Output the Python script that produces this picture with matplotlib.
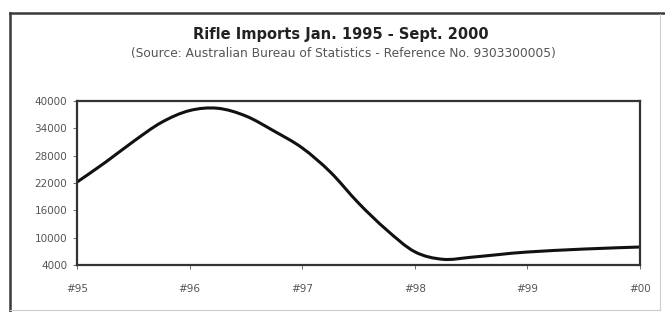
import numpy as np
import matplotlib.pyplot as plt
from matplotlib.path import Path
from matplotlib.patches import PathPatch
from matplotlib.lines import Line2D

plt.rcParams["font.family"] = ["DejaVu Sans"]

# position in years since Jan 1995, imports
pos = [0.0, 0.25, 0.5, 0.75, 1.0, 1.25, 1.5, 1.75, 2.0, 2.25, 2.5,
       2.75, 3.0, 3.25, 3.5, 3.75, 4.0, 4.5, 5.0]
imports = [22200, 26500, 31100, 35300, 37900, 38400, 36700, 33400, 29700,
           24400, 17600, 11700, 6900, 5250, 5700, 6300, 6850, 7500, 7950]

year_labels = ["#95", "#96", "#97", "#98", "#99", "#00"]
y_ticks = [4000, 10000, 16000, 22000, 28000, 34000, 40000]


def smooth_path(x, y):
    # Excel-style smoothed line: Catmull-Rom turned into cubic Bezier pieces
    pts = np.column_stack([x, y]).astype(float)
    verts = [pts[0]]
    codes = [Path.MOVETO]
    n = len(pts)
    for i in range(n - 1):
        p0 = pts[i - 1] if i > 0 else pts[i]
        p1 = pts[i]
        p2 = pts[i + 1]
        p3 = pts[i + 2] if i + 2 < n else pts[i + 1]
        c1 = p1 + (p2 - p0) / 6.0
        c2 = p2 - (p3 - p1) / 6.0
        verts += [c1, c2, p2]
        codes += [Path.CURVE4] * 3
    return Path(verts, codes)


W, H = 665, 312
fig = plt.figure(figsize=(W / 100, H / 100), dpi=100)
fig.patch.set_facecolor("white")


def fx(px):
    return px / W


def fy(py):
    return 1 - py / H


# outer chart frame: dark top/left, light right/bottom
fig.add_artist(Line2D([fx(10), fx(665)], [fy(13), fy(13)], color="#3a3a3a", lw=1.8))
fig.add_artist(Line2D([fx(10), fx(10)], [fy(13), fy(312)], color="#3a3a3a", lw=1.8))
fig.add_artist(Line2D([fx(660), fx(660)], [fy(14), fy(310)], color="#cccccc", lw=0.8))
fig.add_artist(Line2D([fx(10), fx(660)], [fy(310), fy(310)], color="#cccccc", lw=0.8))

ax = fig.add_axes([fx(77), fy(265), (640 - 77) / W, (265 - 101) / H])
ax.add_patch(PathPatch(smooth_path(pos, imports), facecolor="none",
                       edgecolor="#111111", linewidth=2.2,
                       capstyle="round", joinstyle="round"))

ax.set_xlim(0, 5)
ax.set_ylim(4000, 40000)
ax.set_xticks(range(6))
ax.set_xticklabels(year_labels)
ax.set_yticks(y_ticks)
ax.set_yticklabels([str(v) for v in y_ticks])
ax.tick_params(axis="both", labelsize=7.5, colors="#555555",
               length=3, width=0.6, direction="out")
ax.tick_params(axis="x", pad=11)
ax.tick_params(axis="y", pad=4)
for s in ax.spines.values():
    s.set_linewidth(1.6)
    s.set_color("#333333")

fig.text(fx(341), fy(34), "Rifle Imports Jan. 1995 - Sept. 2000",
         ha="center", va="center", fontsize=10.5, fontweight="bold",
         color="#222222")
fig.text(fx(343), fy(54),
         "(Source: Australian Bureau of Statistics - Reference No. 9303300005)",
         ha="center", va="center", fontsize=8.8, color="#555555")

fig.savefig("out.png", dpi=100)
